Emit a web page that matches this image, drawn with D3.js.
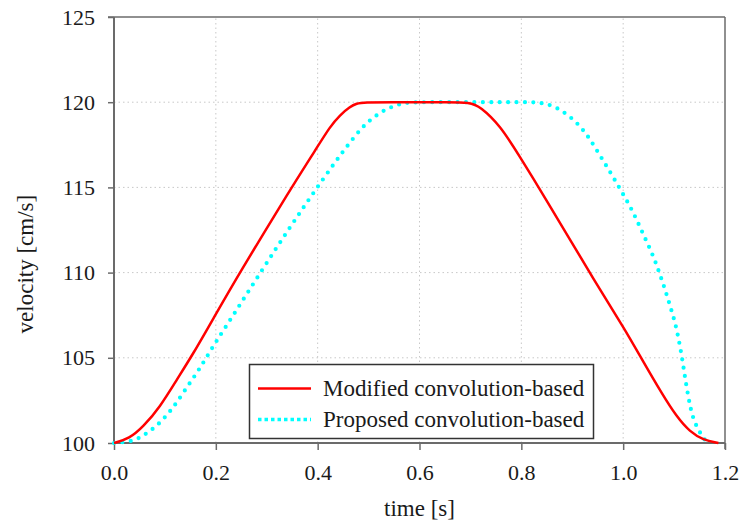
<!DOCTYPE html>
<html><head><meta charset="utf-8">
<script src="https://cdn.jsdelivr.net/npm/d3@7"></script>
<style>body{margin:0;background:#fff}svg{display:block}</style>
</head><body>
<script>
const xTicks = [0.0, 0.2, 0.4, 0.6, 0.8, 1.0, 1.2];
const yTicks = [100, 105, 110, 115, 120, 125];
const seriesNames = ["Modified convolution-based", "Proposed convolution-based"];
const modifiedT = [0, 0.03, 0.0576, 0.09, 0.123, 0.156, 0.195, 0.244, 0.3456, 0.398, 0.424, 0.444, 0.4635, 0.4766, 0.49, 0.55, 0.60, 0.65, 0.70, 0.719, 0.758, 0.797, 0.8366, 0.9544, 1.0002, 1.0395, 1.0756, 1.105, 1.131, 1.157, 1.187];
const modifiedV = [100, 100.25, 100.96, 102.1, 103.7, 105.26, 107.3, 109.86, 114.85, 117.3, 118.56, 119.25, 119.73, 119.93, 120, 120, 120, 120, 120, 119.74, 118.66, 116.8, 114.9, 108.98, 106.83, 104.77, 102.92, 101.54, 100.66, 100.18, 100.0];
const proposedT = [0, 0.035, 0.05, 0.066, 0.082, 0.097, 0.111, 0.124, 0.146, 0.167, 0.187, 0.208, 0.230, 0.2907, 0.344, 0.399, 0.434, 0.458, 0.485, 0.501, 0.518, 0.534, 0.551, 0.567, 0.583, 0.65, 0.72, 0.80, 0.83, 0.843, 0.861, 0.877, 0.894, 0.910, 0.924, 0.936, 0.956, 0.976, 0.995, 1.013, 1.029, 1.044, 1.059, 1.071, 1.082, 1.092, 1.102, 1.109, 1.115, 1.12, 1.125, 1.131, 1.135, 1.140, 1.148, 1.156, 1.165];
const proposedV = [100, 100.1, 100.3, 100.6, 100.96, 101.4, 101.9, 102.4, 103.4, 104.3, 105.3, 106.3, 107.3, 110.15, 112.6, 115.0, 116.47, 117.43, 118.45, 118.9, 119.29, 119.58, 119.79, 119.93, 120, 120, 120, 120, 120, 119.93, 119.8, 119.54, 119.19, 118.76, 118.27, 117.78, 116.8, 115.83, 114.85, 113.93, 112.95, 111.95, 110.99, 110.0, 109.04, 108.06, 107.08, 106.1, 105.12, 104.15, 103.2, 102.23, 101.74, 101.25, 100.76, 100.37, 100.0];

const FONT = "'Liberation Serif', Tinos, 'Times New Roman', 'DejaVu Serif', serif";
const W = 742, H = 523;
const m = {left:114, right:742-725, top:17, bottom:523-443};
const svg = d3.select("body").append("svg").attr("width", W).attr("height", H);
const x = d3.scaleLinear().domain([0, 1.2]).range([m.left, W - m.right]);
const y = d3.scaleLinear().domain([100, 125]).range([H - m.bottom, m.top]);
const axisCol = "#6b6b6b";

// grid
const g = svg.append("g");
g.selectAll(".gx").data(xTicks.slice(1, -1)).join("line")
  .attr("x1", d => x(d)).attr("x2", d => x(d)).attr("y1", y(100)).attr("y2", y(125))
  .attr("stroke", "#c8c8c8").attr("stroke-width", 1).attr("stroke-dasharray", "1.5,3");
g.selectAll(".gy").data(yTicks.slice(1, -1)).join("line")
  .attr("y1", d => y(d)).attr("y2", d => y(d)).attr("x1", x(0)).attr("x2", x(1.2))
  .attr("stroke", "#c8c8c8").attr("stroke-width", 1).attr("stroke-dasharray", "1.5,3");

// frame top/right
svg.append("line").attr("x1", x(0) - 6).attr("x2", x(1.2)).attr("y1", y(125)).attr("y2", y(125)).attr("stroke", axisCol).attr("stroke-width", 1.5);
svg.append("line").attr("x1", x(1.2)).attr("x2", x(1.2)).attr("y1", y(125)).attr("y2", y(100) + 6).attr("stroke", axisCol).attr("stroke-width", 1.5);

// axes
const xAxis = svg.append("g").attr("transform", `translate(0,${y(100)})`)
  .call(d3.axisBottom(x).tickValues(xTicks).tickFormat(d3.format(".1f")).tickSize(7).tickPadding(14));
const yAxis = svg.append("g").attr("transform", `translate(${x(0)},0)`)
  .call(d3.axisLeft(y).tickValues(yTicks).tickFormat(d3.format("d")).tickSize(6).tickPadding(13));
[xAxis, yAxis].forEach(a => {
  a.attr("font-family", FONT).attr("font-size", 22);
  a.select(".domain").attr("stroke", axisCol).attr("stroke-width", 2);
  a.selectAll(".tick line").attr("stroke", axisCol).attr("stroke-width", 1.5);
  a.selectAll("text").attr("font-family", FONT).attr("font-size", 22).attr("fill", "#1a1a1a");
});
yAxis.select(".domain").attr("d", `M0,${y(100)}V${y(125)}`);
xAxis.select(".domain").attr("d", `M${x(0)},0H${x(1.2)}`);

// lines
const line = d3.line().x(d => x(d[0])).y(d => y(d[1])).curve(d3.curveBasis);
const modified = modifiedT.map((t, i) => [t, modifiedV[i]]);
const proposed = proposedT.map((t, i) => [t, proposedV[i]]);
svg.append("path").datum(proposed).attr("d", line).attr("fill", "none")
  .attr("stroke", "#00ffff").attr("stroke-width", 4.2).attr("stroke-linecap", "round").attr("stroke-dasharray", "0,8.4");
svg.append("path").datum(modified).attr("d", line).attr("fill", "none")
  .attr("stroke", "#ff0000").attr("stroke-width", 2.5);

// legend
const lg = svg.append("g");
lg.append("rect").attr("x", 249.5).attr("y", 364.5).attr("width", 344).attr("height", 74)
  .attr("fill", "#fff").attr("stroke", "#333").attr("stroke-width", 1.5);
lg.append("line").attr("x1", 258).attr("x2", 311).attr("y1", 388.5).attr("y2", 388.5).attr("stroke", "#ff0000").attr("stroke-width", 2.5);
lg.append("line").attr("x1", 258).attr("x2", 311).attr("y1", 419.5).attr("y2", 419.5).attr("stroke", "#00ffff").attr("stroke-width", 3.5).attr("stroke-dasharray", "3.5,3");
lg.append("text").attr("x", 323).attr("y", 396).attr("font-family", FONT).attr("font-size", 23).attr("fill", "#1a1a1a").text(seriesNames[0]);
lg.append("text").attr("x", 323).attr("y", 427).attr("font-family", FONT).attr("font-size", 23).attr("fill", "#1a1a1a").text(seriesNames[1]);

// axis titles
svg.append("text").attr("x", x(0.6)).attr("y", 516).attr("text-anchor", "middle").attr("font-family", FONT).attr("font-size", 23).attr("fill", "#1a1a1a").text("time [s]");
svg.append("text").attr("transform", `translate(33,${y(110.5)}) rotate(-90)`).attr("text-anchor", "middle").attr("font-family", FONT).attr("font-size", 23).attr("fill", "#1a1a1a").text("velocity [cm/s]");
</script>
</body></html>
